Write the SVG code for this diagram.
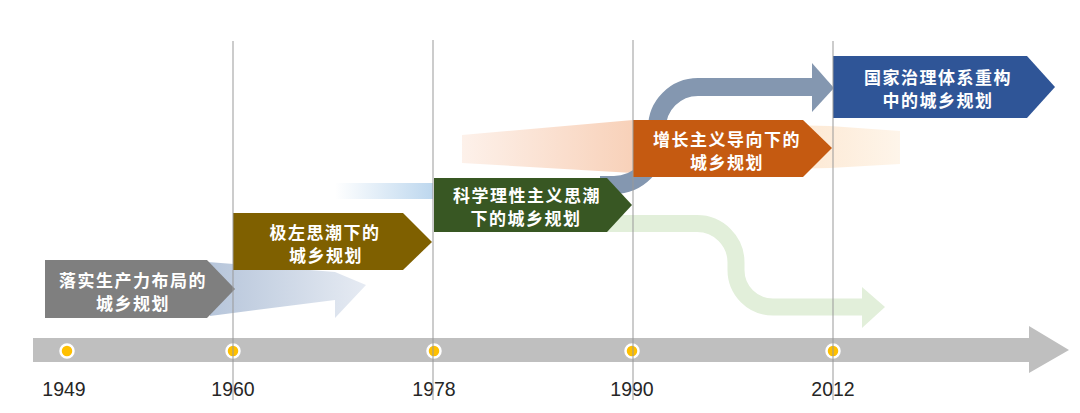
<svg xmlns="http://www.w3.org/2000/svg" width="1080" height="413" viewBox="0 0 1080 413">
<defs>
<linearGradient id="gBlueL" x1="208" y1="0" x2="366" y2="0" gradientUnits="userSpaceOnUse">
<stop offset="0" stop-color="#B6C5DA"/><stop offset="1" stop-color="#E6EBF3"/>
</linearGradient>
<linearGradient id="gBar" x1="335" y1="0" x2="433" y2="0" gradientUnits="userSpaceOnUse">
<stop offset="0" stop-color="#FFFFFF"/><stop offset="1" stop-color="#BDD7EE"/>
</linearGradient>
<linearGradient id="gOr" x1="462" y1="0" x2="900" y2="0" gradientUnits="userSpaceOnUse">
<stop offset="0" stop-color="#FDF1EA"/><stop offset="0.39" stop-color="#F8D1B9"/><stop offset="0.8" stop-color="#FDEAD6"/><stop offset="1" stop-color="#FEF5EA"/>
</linearGradient>
<style>
.lbl{font-family:"Noto Sans CJK SC","Noto Sans",sans-serif;font-weight:bold;font-size:17px;fill:#FFFFFF;text-anchor:middle;letter-spacing:1.5px}
.yr{font-family:"Liberation Sans",Arial,sans-serif;font-size:19.5px;fill:#262626;text-anchor:middle}
.vl{stroke:#999999;stroke-width:1}
.dot{fill:#FFC000;stroke:#FFFFFF;stroke-width:2.5}
</style>
</defs>
<rect width="1080" height="413" fill="#FFFFFF"/>
<g id="connectors">
<polygon points="462,135 633,120 633,173 462,163" fill="url(#gOr)"/>
<polygon points="633,122 830,126 900,131 900,164 830,168 633,172" fill="url(#gOr)"/>
<polygon points="208,262 335,272 366,285 335,318 335,300 210,316" fill="url(#gBlueL)"/>
<rect x="335" y="183" width="98" height="16" fill="url(#gBar)"/>
<path d="M600,185 L614,185 A43,43 0 0 0 657,142 L657,128 A41,41 0 0 1 698,87 L814,87" fill="none" stroke="#8497B0" stroke-width="18"/>
<polygon points="812,63 834,88 812,112" fill="#8497B0"/>
<path d="M600,223.5 L697,223.5 A39,39 0 0 1 736,262.5 L736,270 A37,37 0 0 0 773,307 L864,307" fill="none" stroke="#E2EFDA" stroke-width="17"/>
<polygon points="862,287 885,307 862,328" fill="#E2EFDA"/>
</g>
<g id="node-1949">
<polygon points="45,260 207,260 235,289 207,318 45,318" fill="#7F7F7F"/>
<text class="lbl" x="133" y="287">落实生产力布局的</text>
<text class="lbl" x="133" y="310">城乡规划</text>
</g>
<g id="node-1960">
<polygon points="233,213 403,213 432,242 403,270 233,270" fill="#7F6000"/>
<text class="lbl" x="325" y="239">极左思潮下的</text>
<text class="lbl" x="326" y="262">城乡规划</text>
</g>
<g id="node-1978">
<polygon points="434,178 607,178 632,205 607,232 434,232" fill="#385723"/>
<text class="lbl" x="527" y="202">科学理性主义思潮</text>
<text class="lbl" x="526" y="225">下的城乡规划</text>
</g>
<g id="node-1990">
<polygon points="633,120 803,120 832,148 803,177 633,177" fill="#C55A11"/>
<text class="lbl" x="727" y="146">增长主义导向下的</text>
<text class="lbl" x="727" y="169">城乡规划</text>
</g>
<g id="node-2012">
<polygon points="833,56 1027,56 1055,87 1027,118 833,118" fill="#2F5597"/>
<text class="lbl" x="938" y="84">国家治理体系重构</text>
<text class="lbl" x="938" y="107">中的城乡规划</text>
</g>
<g id="timeline">
<polygon points="33,338 1029,338 1029,326 1069,350 1029,373 1029,362 33,362" fill="#BFBFBF"/>
<circle class="dot" cx="67" cy="351" r="6.5"/>
<circle class="dot" cx="233" cy="351" r="6.5"/>
<circle class="dot" cx="434" cy="351" r="6.5"/>
<circle class="dot" cx="632" cy="351" r="6.5"/>
<circle class="dot" cx="833" cy="351" r="6.5"/>
<text class="yr" x="64" y="396">1949</text>
<text class="yr" x="233" y="396">1960</text>
<text class="yr" x="434" y="396">1978</text>
<text class="yr" x="632" y="396">1990</text>
<text class="yr" x="833" y="396">2012</text>
</g>
<g id="gridlines">
<line class="vl" x1="233" y1="41" x2="233" y2="400"/>
<line class="vl" x1="433" y1="40" x2="433" y2="400"/>
<line class="vl" x1="633" y1="40" x2="633" y2="400"/>
<line class="vl" x1="833" y1="41" x2="833" y2="400"/>
</g>
</svg>
